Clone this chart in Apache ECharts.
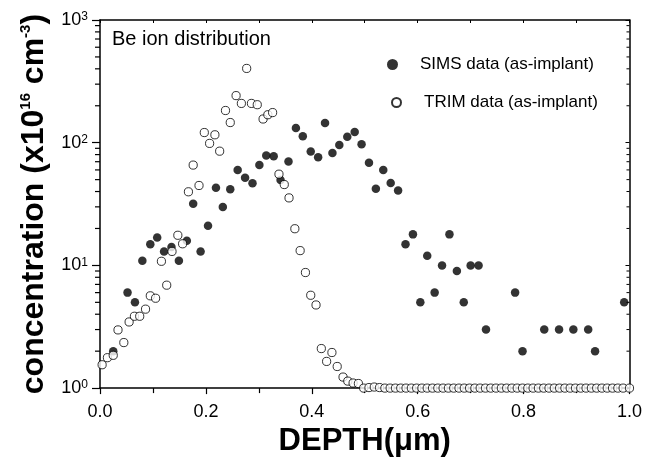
<!DOCTYPE html>
<html>
<head>
<meta charset="utf-8">
<script src="https://cdn.jsdelivr.net/npm/echarts@6/dist/echarts.min.js"></script>
<style>html,body{margin:0;padding:0;background:#fff}#c{width:645px;height:462px}</style>
</head>
<body>
<div id="c"></div>
<script>
// ---- data ----
const simsX = [0.025,0.052,0.066,0.080,0.095,0.108,0.121,0.135,0.149,0.164,0.176,0.190,0.204,0.219,0.232,0.246,0.260,0.274,0.288,0.301,0.314,0.328,0.341,0.356,0.370,0.383,0.398,0.412,0.425,0.439,0.452,0.467,0.481,0.494,0.508,0.521,0.535,0.549,0.563,0.577,0.591,0.605,0.618,0.632,0.646,0.660,0.674,0.687,0.700,0.715,0.729,0.784,0.798,0.839,0.867,0.894,0.922,0.935,0.990];
const simsY = [2.0,6.0,5.0,10.9,14.9,16.9,13.0,14.1,10.9,15.9,31.8,13.0,21.0,42.9,29.9,41.8,60,51.8,46.7,65.7,78.8,77.6,49.7,70.3,131.6,113,84.9,76,145,82.3,95.8,111.6,122,97,68.5,42.1,60,47,40.8,14.9,17.9,5.0,12.0,6.0,10.0,17.9,9.0,5.0,10,10,3.0,6.0,2.0,3,3,3,3,2,5];

const trimX = [0.004,0.014,0.025,0.034,0.045,0.055,0.065,0.075,0.086,0.095,0.105,0.116,0.126,0.136,0.147,0.156,0.167,0.176,0.187,0.197,0.207,0.217,0.226,0.237,0.246,0.257,0.267,0.277,0.286,0.297,0.308,0.317,0.326,0.338,0.348,0.357,0.368,0.378,0.388,0.398,0.408,0.418,0.428,0.438,0.448,0.459,0.468,0.478,0.488,0.498,
  0.508,0.518,0.528,0.538,0.548,0.558,0.568,0.578,0.588,0.598,0.608,0.618,0.628,0.638,0.648,0.658,0.668,0.678,0.688,0.698,0.708,0.718,0.728,0.738,0.748,0.758,0.768,0.778,0.788,0.798,0.808,0.818,0.828,0.838,0.848,0.858,0.868,0.878,0.888,0.898,0.908,0.918,0.928,0.938,0.948,0.958,0.968,0.978,0.988,1.000];
const trimY = [1.55,1.77,1.85,2.98,2.35,3.46,3.85,3.85,4.4,5.65,5.4,10.8,6.9,13.0,17.6,15.0,39.8,65.7,44.8,121,98.7,116,85.3,183,146,242,209,403,209,204,156,169,176,55.4,45.6,35.5,19.9,13.2,8.75,5.71,4.76,2.1,1.65,1.95,1.5,1.23,1.14,1.10,1.09,1.0,
  1.01,1.02,1.01,1,1,1,1,1,1,1,1,1,1,1,1,1,1,1,1,1,1,1,1,1,1,1,1,1,1,1,1,1,1,1,1,1,1,1,1,1,1,1,1,1,1,1,1,1,1,1];

const minorVals = [2,3,4,5,6,7,8,9,20,30,40,50,60,70,80,90,200,300,400,500,600,700,800,900];

const seriesNames = ['SIMS data (as-implant)', 'TRIM data (as-implant)'];
const xName = 'DEPTH(\u03bcm)';
const yName = 'concentration (x10{sup|16} cm{sup|-3})';
const noteText = 'Be ion distribution';

// ---- chart ----
const FF = '"Liberation Sans", Arial, Helvetica, sans-serif';
const axisLineStyle = {color:'#000', width:1.5};
const chart = echarts.init(document.getElementById('c'), null, {renderer:'canvas'});

const option = {
  animation: false,
  backgroundColor: '#fff',
  grid: {left:100, right:13, top:20, bottom:64, containLabel:false},
  legend: [
    {data:[seriesNames[0]], left:387, top:56, padding:0, orient:'vertical', itemWidth:11, itemHeight:11, selectedMode:false,
     textStyle:{fontSize:17, color:'#000', fontFamily:FF, padding:[0,0,0,17]}},
    {data:[seriesNames[1]], left:391, top:94, padding:0, orient:'vertical', itemWidth:9, itemHeight:9, selectedMode:false,
     textStyle:{fontSize:17, color:'#000', fontFamily:FF, padding:[0,0,0,18]}}
  ],
  graphic: [
    {type:'text', left:112, top:29, style:{text:noteText, fontSize:20, fill:'#000', fontFamily:FF}}
  ],
  xAxis: [
    {type:'value', min:0, max:1, interval:0.2, position:'bottom',
     name:xName, nameLocation:'middle', nameGap:30,
     nameTextStyle:{fontSize:31, fontWeight:'bold', color:'#000', fontFamily:FF},
     axisLine:{onZero:false, lineStyle:axisLineStyle},
     axisTick:{length:6, lineStyle:{color:'#000', width:1.2}},
     minorTick:{show:true, splitNumber:2, length:5, lineStyle:{color:'#000', width:1.2}},
     axisLabel:{formatter:v=>v.toFixed(1), fontSize:18, color:'#000', margin:15, fontFamily:FF},
     splitLine:{show:false}, minorSplitLine:{show:false}},
    {type:'value', min:0, max:1, interval:0.1, position:'top',
     axisLine:{onZero:false, lineStyle:axisLineStyle},
     axisTick:{inside:true, length:3, lineStyle:{color:'#000', width:1}},
     axisLabel:{show:false}, splitLine:{show:false}}
  ],
  yAxis: [
    {type:'log', logBase:10, min:1, max:1000, position:'left',
     name:yName, nameLocation:'middle', nameGap:48, nameRotate:90,
     nameTextStyle:{fontSize:32, fontWeight:'bold', color:'#000', fontFamily:FF,
       rich:{sup:{fontSize:15, fontWeight:'bold', color:'#000', fontFamily:FF, verticalAlign:'top'}}},
     axisLine:{onZero:false, lineStyle:axisLineStyle},
     axisTick:{length:8, lineStyle:{color:'#000', width:1.2}},
     axisLabel:{formatter:v=>'10{sup|'+Math.round(Math.log10(v))+'}', fontSize:18, color:'#000', margin:12, fontFamily:FF,
       rich:{sup:{fontSize:12, color:'#000', fontFamily:FF, verticalAlign:'top'}}},
     splitLine:{show:false}},
    {type:'log', logBase:10, min:1, max:1000, position:'right',
     axisLine:{onZero:false, lineStyle:axisLineStyle},
     axisTick:{inside:true, length:4, lineStyle:{color:'#000', width:1}},
     axisLabel:{show:false}, splitLine:{show:false}}
  ],
  series: [
    {type:'custom', name:'minorTicks', silent:true, z:1, clip:false,
     data: minorVals.map(v=>[0, v]),
     renderItem:(params, api)=>{
       const v = api.value(1);
       const pl = api.coord([0, v]);
       const pr = api.coord([1, v]);
       return {type:'group', children:[
         {type:'line', shape:{x1:pl[0]-5, y1:pl[1], x2:pl[0], y2:pl[1]}, style:{stroke:'#000', lineWidth:1.2}},
         {type:'line', shape:{x1:pr[0]-3, y1:pr[1], x2:pr[0], y2:pr[1]}, style:{stroke:'#000', lineWidth:1}}
       ]};
     }},
    {name:seriesNames[0], type:'scatter', clip:false, z:3,
     data: simsX.map((x,i)=>[x, simsY[i]]),
     symbol:'circle', symbolSize:8.5, itemStyle:{color:'#000'}},
    {name:seriesNames[1], type:'scatter', clip:false, z:4,
     data: trimX.map((x,i)=>[x, trimY[i]]),
     symbol:'circle', symbolSize:8.2, itemStyle:{color:'#fff', borderColor:'#000', borderWidth:1}}
  ]
};
chart.setOption(option);
</script>
</body>
</html>
